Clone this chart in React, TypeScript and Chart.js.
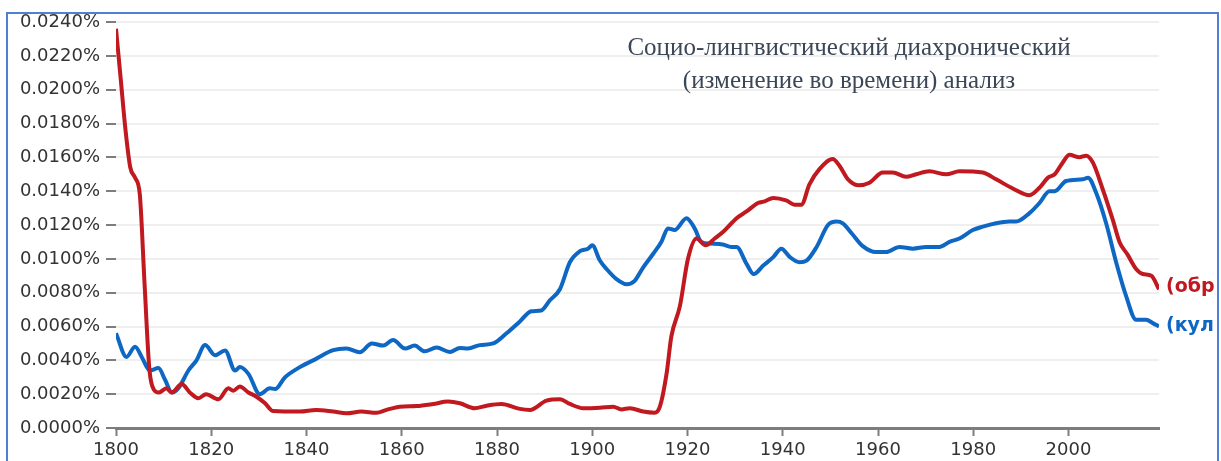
import React, { useEffect, useRef } from "react";
import { Chart, registerables } from "chart.js";

Chart.register(...registerables);

const titleLines = ["Социо-лингвистический диахронический", "(изменение во времени) анализ"];
const redLabel = "(обр";
const blueLabel = "(кул";

const xTicks = [1800, 1820, 1840, 1860, 1880, 1900, 1920, 1940, 1960, 1980, 2000];
const yTicks = [0, 0.002, 0.004, 0.006, 0.008, 0.01, 0.012, 0.014, 0.016, 0.018, 0.02, 0.022, 0.024];

const redYears = [1800, 1801, 1802, 1803, 1804, 1805, 1806, 1807, 1808, 1809, 1810.6, 1811.7, 1813.8, 1815.5, 1817.3, 1818.9, 1821.5, 1823.6, 1824.6, 1826, 1827.8, 1829.5, 1831.3, 1833, 1838.6, 1842, 1845.6, 1848.4, 1851.5, 1854.7, 1856.8, 1859.6, 1863.1, 1866.6, 1869.7, 1872.2, 1875.3, 1877.8, 1880.9, 1884.8, 1886.9, 1890.4, 1893.2, 1895.3, 1898.1, 1901.6, 1904.4, 1906.1, 1907.9, 1910.7, 1913.1, 1914.2, 1915.6, 1916.6, 1918.4, 1920.1, 1921.9, 1923.8, 1925.7, 1927.5, 1930.3, 1932.4, 1934.8, 1936.2, 1938, 1940.7, 1942.5, 1943.9, 1945.6, 1947.7, 1950.5, 1951.9, 1953.7, 1956, 1958.2, 1961, 1963.1, 1965.9, 1968, 1970.8, 1974.3, 1977.1, 1982, 1984.8, 1988.3, 1991.8, 1993.9, 1995.7, 1997.1, 1998.8, 2000.2, 2002.3, 2003.7, 2005.1, 2007.2, 2009.3, 2010.7, 2012.4, 2014.2, 2015.6, 2017.4, 2019];
const redValues = [0.0236, 0.0206, 0.0176, 0.0154, 0.0148, 0.0138, 0.0085, 0.0035, 0.00225, 0.0021, 0.00235, 0.0021, 0.0026, 0.0021, 0.00176, 0.002, 0.0017, 0.00235, 0.0022, 0.00245, 0.0021, 0.00185, 0.00146, 0.001, 0.00097, 0.00107, 0.00097, 0.00087, 0.00097, 0.0009, 0.00107, 0.00126, 0.0013, 0.00142, 0.00156, 0.00146, 0.00117, 0.00132, 0.00142, 0.00113, 0.00107, 0.00162, 0.0017, 0.00142, 0.00117, 0.0012, 0.00126, 0.0011, 0.00117, 0.00097, 0.0009, 0.00126, 0.0032, 0.0054, 0.0072, 0.01, 0.0112, 0.0108, 0.0112, 0.0116, 0.0124, 0.0128, 0.0133, 0.0134, 0.0136, 0.01345, 0.0132, 0.0132, 0.0144, 0.0153, 0.0159, 0.0155, 0.0147, 0.01435, 0.0145, 0.0151, 0.0151, 0.01485, 0.015, 0.01517, 0.015, 0.01517, 0.0151, 0.0147, 0.01416, 0.01376, 0.0142, 0.0148, 0.015, 0.0157, 0.01615, 0.016, 0.0161, 0.0157, 0.0141, 0.0123, 0.011, 0.01025, 0.0094, 0.0091, 0.009, 0.0082];

const blueYears = [1800, 1802.2, 1804, 1805.4, 1807.1, 1808.9, 1810.3, 1811.7, 1813.1, 1815.2, 1816.9, 1818.7, 1820.8, 1822.9, 1825, 1826, 1827.8, 1830.2, 1832.3, 1833.4, 1835.5, 1838.6, 1842.1, 1845.6, 1848.4, 1851.2, 1853.7, 1856.1, 1858.2, 1860.7, 1862.7, 1864.8, 1867.3, 1870.1, 1872.2, 1873.9, 1876.4, 1879.2, 1882, 1884.8, 1887.2, 1889.3, 1891.1, 1893.2, 1895.3, 1897.4, 1899.1, 1900, 1901.6, 1903, 1905.1, 1907.2, 1908.9, 1910.7, 1912.8, 1914.5, 1915.9, 1917.3, 1919.8, 1921.5, 1922.9, 1924.7, 1927.4, 1929.2, 1930.3, 1932.4, 1933.9, 1935.9, 1938, 1939.7, 1941.5, 1943.5, 1945, 1947.1, 1949.5, 1951.3, 1952.6, 1954.5, 1956.8, 1959.6, 1961.7, 1964.5, 1967.3, 1970.1, 1972.9, 1975, 1977.1, 1979.9, 1982, 1984.8, 1987.6, 1989, 1991.8, 1993.9, 1996, 1997.1, 1999.5, 2003, 2004.1, 2005.8, 2007.9, 2010, 2012.1, 2014.2, 2016.3, 2017.7, 2019];
const blueValues = [0.0056, 0.0042, 0.0048, 0.0042, 0.0034, 0.00354, 0.00285, 0.0021, 0.00235, 0.0034, 0.004, 0.0049, 0.0043, 0.00458, 0.0034, 0.0036, 0.0032, 0.002, 0.00235, 0.0023, 0.003, 0.0036, 0.0041, 0.0046, 0.0047, 0.00448, 0.005, 0.00487, 0.0052, 0.0047, 0.00487, 0.00453, 0.00476, 0.0045, 0.00473, 0.0047, 0.0049, 0.005, 0.0056, 0.0063, 0.0069, 0.00695, 0.00755, 0.0082, 0.0098, 0.01045, 0.0106, 0.0108, 0.0099, 0.0094, 0.0088, 0.0085, 0.0087, 0.0095, 0.0103, 0.011, 0.0118, 0.0117, 0.0124, 0.0118, 0.011, 0.0109, 0.01085, 0.0107, 0.0107, 0.0097, 0.0091, 0.0096, 0.0101, 0.0106, 0.0101, 0.0098, 0.0099, 0.0107, 0.012, 0.0122, 0.0121, 0.0115, 0.01075, 0.0104, 0.0104, 0.0107, 0.0106, 0.0107, 0.0107, 0.011, 0.0112, 0.0117, 0.0119, 0.0121, 0.0122, 0.0122, 0.0127, 0.0133, 0.014, 0.014, 0.0146, 0.0147, 0.0148, 0.0139, 0.0121, 0.0098, 0.0078, 0.0064, 0.0064, 0.0062, 0.006];

const RED = "#c0191f";
const BLUE = "#0f67c4";

const overlayPlugin = {
  id: "overlay",
  afterDraw(chart: any) {
    const ctx = chart.ctx;
    const area = chart.chartArea;
    const ys = chart.scales.y;
    ctx.save();
    // title
    ctx.fillStyle = "#3b4656";
    ctx.font = '25px "Liberation Serif"';
    ctx.textAlign = "center";
    ctx.textBaseline = "alphabetic";
    ctx.fillText(titleLines[0], 849, 55);
    ctx.fillText(titleLines[1], 849, 88);
    // end labels
    ctx.beginPath();
    ctx.rect(0, 0, 1216, 461);
    ctx.clip();
    ctx.font = 'bold 19px "DejaVu Sans"';
    ctx.textAlign = "left";
    ctx.textBaseline = "middle";
    const ry = ys.getPixelForValue(redValues[redValues.length - 1]);
    ctx.fillStyle = RED;
    ctx.fillText(redLabel, area.right + 7, ry - 2);
    const by = ys.getPixelForValue(blueValues[blueValues.length - 1]);
    ctx.fillStyle = BLUE;
    ctx.fillText(blueLabel, area.right + 7, by);
    ctx.restore();
    // frame
    ctx.save();
    ctx.strokeStyle = "#4f80d2";
    ctx.lineWidth = 2;
    ctx.strokeRect(7, 13, 1211, 470);
    ctx.restore();
  },
};

export default function App() {
  const ref = useRef<HTMLCanvasElement | null>(null);
  useEffect(() => {
    document.body.style.margin = "0";
    const canvas = ref.current!;
    const chart = new Chart(canvas, {
      type: "line",
      data: {
        datasets: [
          {
            label: redLabel,
            data: redYears.map((y, i) => ({ x: y, y: redValues[i] })),
            borderColor: RED,
            borderWidth: 4,
            pointRadius: 0,
            cubicInterpolationMode: "monotone",
            fill: false,
          },
          {
            label: blueLabel,
            data: blueYears.map((y, i) => ({ x: y, y: blueValues[i] })),
            borderColor: BLUE,
            borderWidth: 4,
            pointRadius: 0,
            cubicInterpolationMode: "monotone",
            fill: false,
          },
        ],
      },
      options: {
        responsive: false,
        animation: false,
        layout: { padding: { left: 0, right: 62, top: 22, bottom: 0 } },
        plugins: { legend: { display: false }, tooltip: { enabled: false }, title: { display: false } },
        scales: {
          x: {
            type: "linear",
            min: 1800,
            max: 2019,
            afterBuildTicks: (s: any) => {
              s.ticks = xTicks.map((v) => ({ value: v }));
            },
            afterFit: (s: any) => {
              s.height = 33;
            },
            grid: { drawOnChartArea: false, drawTicks: true, tickLength: 8, tickColor: "#7d7d7d", tickWidth: 2 },
            border: { display: true, color: "#7d7d7d", width: 3 },
            ticks: {
              color: "#333333",
              font: { family: "DejaVu Sans", size: 18 },
              padding: 4,
              maxRotation: 0,
              callback: (v: any) => String(v),
            },
          },
          y: {
            min: 0,
            max: 0.024,
            afterBuildTicks: (s: any) => {
              s.ticks = yTicks.map((v) => ({ value: v }));
            },
            afterFit: (s: any) => {
              s.width = 116;
            },
            grid: { color: "#efefef", lineWidth: 2, drawTicks: true, tickLength: 10, tickColor: "#7d7d7d", tickWidth: 2 },
            border: { display: false },
            ticks: {
              color: "#333333",
              font: { family: "DejaVu Sans", size: 18 },
              padding: 6,
              callback: (v: any) => Number(v).toFixed(4) + "%",
            },
          },
        },
      },
      plugins: [overlayPlugin],
    });
    return () => chart.destroy();
  }, []);
  return <canvas ref={ref} width={1221} height={461} style={{ display: "block" }} />;
}
